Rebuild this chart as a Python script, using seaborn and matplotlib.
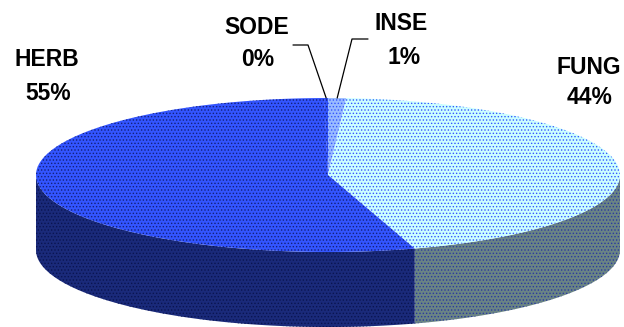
import numpy as np
import matplotlib
matplotlib.use("Agg")
import matplotlib.pyplot as plt
import seaborn as sns
from matplotlib.patches import Polygon

sns.set_theme(style="white")
plt.rcParams['font.family'] = ['Liberation Sans', 'DejaVu Sans']
plt.rcParams['hatch.linewidth'] = 0.6

# Data (clockwise from 12 o'clock)
labels = ["INSE", "FUNG", "HERB", "SODE"]
values = [1.0, 44.2, 54.6, 0.2]

# colours: top face, side face, dot colour
top_colors = ["#99bbff", "#ccffff", "#3355ff", "#3355ff"]
side_colors = ["#5a6e90", "#6a8484", "#1a2a7a", "#1a2a7a"]
dot_colors = ["#3355ff", "#3355ff", "#14207a", "#14207a"]
side_dots = ["#2a3a9a", "#2a3aa0", "#0a1450", "#0a1450"]

# label positions (pixels) for the name and percent lines
name_pos = [(401, 24), (589, 67), (47, 60), (257, 27)]
pct_pos = [(404, 57), (590, 97), (48, 93), (258, 59)]
# elbow of leader lines (only for the tiny slices)
leader_elbow = {"INSE": [(368, 39), (352, 39)], "SODE": [(293, 45), (308, 45)]}

# pie geometry in pixels
cx, cy, a, b, depth = 328, 175, 292, 77, 75

fig = plt.figure(figsize=(6.24, 3.27), dpi=100)
ax = fig.add_axes([0, 0, 1, 1])
ax.set_xlim(0, 624)
ax.set_ylim(327, 0)
ax.axis('off')


def ell(t, dy=0):
    t = np.radians(t)
    return np.column_stack([cx + a * np.cos(t), cy - b * np.sin(t) + dy])


total = sum(values)
starts, ends = [], []
ang = 90.0
for v in values:
    starts.append(ang)
    ang -= v / total * 360
    ends.append(ang)

# sides (front half only: angles between -180 and 0, mod 360)
for i in range(len(values)):
    hi, lo = starts[i], ends[i]
    for shift in (-360, 0, 360):
        s_hi = min(hi + shift, 0)
        s_lo = max(lo + shift, -180)
        if s_hi > s_lo:
            t = np.linspace(s_lo, s_hi, 120)
            pts = np.vstack([ell(t), ell(t[::-1], depth)])
            ax.add_patch(Polygon(pts, closed=True, facecolor=side_colors[i],
                                 edgecolor=side_dots[i], hatch='.....',
                                 linewidth=0))

# top faces
for i in range(len(values)):
    t = np.linspace(ends[i], starts[i], 200)
    pts = np.vstack([[cx, cy], ell(t)])
    ax.add_patch(Polygon(pts, closed=True, facecolor=top_colors[i],
                         edgecolor=dot_colors[i], hatch='.....', linewidth=0))

# labels
for i, lab in enumerate(labels):
    pct = "{:.0f}%".format(values[i] / total * 100)
    ax.text(*name_pos[i], lab, ha='center', va='center', fontsize=16.5,
            fontweight='bold', color='black')
    ax.text(*pct_pos[i], pct, ha='center', va='center', fontsize=16.5,
            fontweight='bold', color='black')
    if lab in leader_elbow:
        mid = (starts[i] + ends[i]) / 2
        end = ell(np.array([mid]))[0]
        pts = np.array(leader_elbow[lab] + [tuple(end)])
        ax.plot(pts[:, 0], pts[:, 1], color='black', linewidth=0.9)

fig.savefig("out.png", dpi=100)
